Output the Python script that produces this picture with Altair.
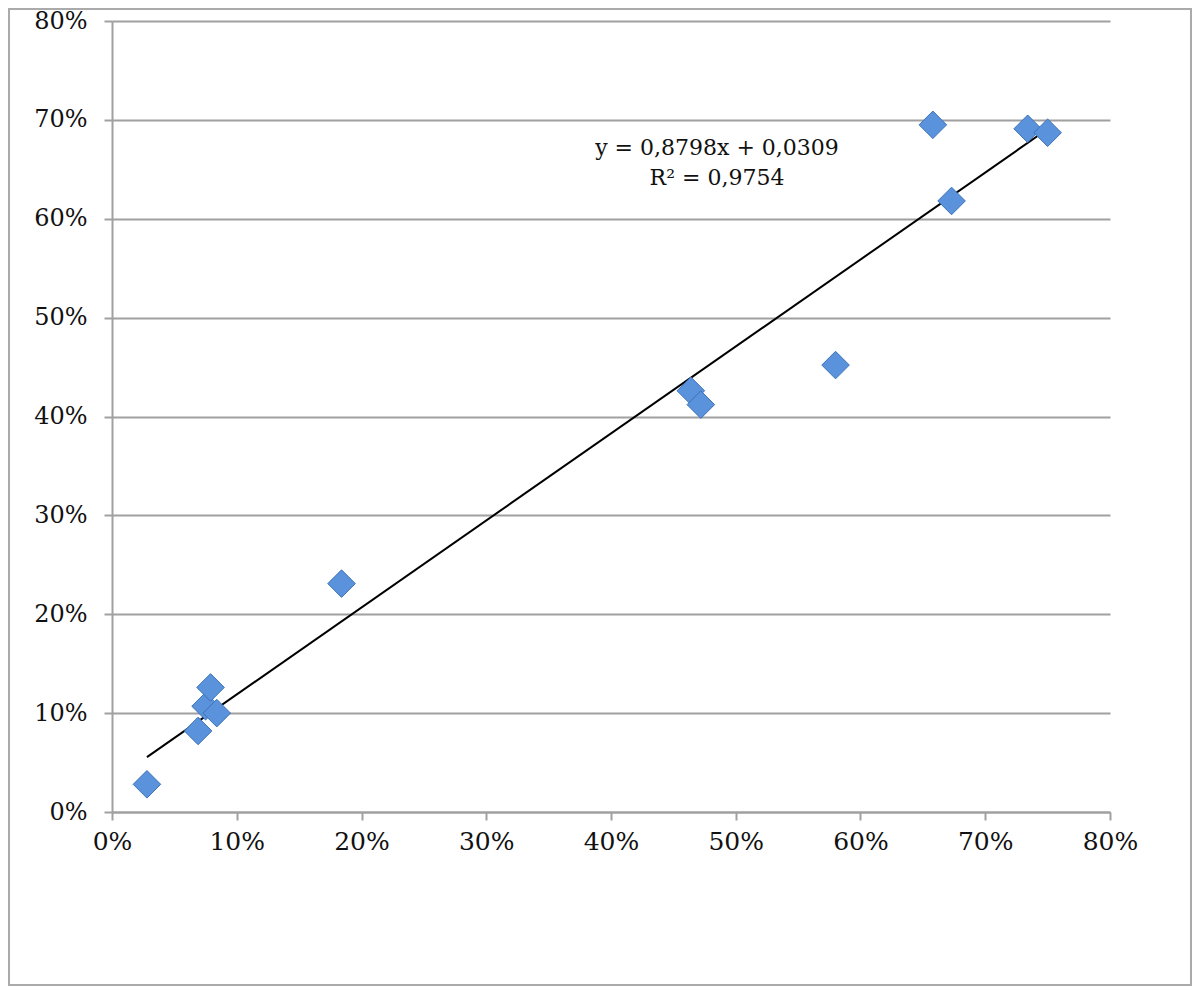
import altair as alt
import pandas as pd

x_vals = [0.028, 0.069, 0.075, 0.079, 0.084, 0.184, 0.464, 0.472, 0.580, 0.658, 0.673, 0.734, 0.750]
y_vals = [0.028, 0.082, 0.107, 0.126, 0.100, 0.231, 0.426, 0.412, 0.452, 0.695, 0.618, 0.691, 0.687]
slope = 0.8798
intercept = 0.0309
tick_vals = [0, 0.1, 0.2, 0.3, 0.4, 0.5, 0.6, 0.7, 0.8]
eq_lines = ["y = 0,8798x + 0,0309", "R² = 0,9754"]

pts = pd.DataFrame({"x": x_vals, "y": y_vals})
xs = [min(x_vals), max(x_vals)]
trend = pd.DataFrame({"x": xs, "y": [slope * v + intercept for v in xs]})

FONT = "DejaVu Serif"
W, H = 998, 791

xscale = alt.Scale(domain=[0, 0.8], nice=False, zero=False)
yscale = alt.Scale(domain=[0, 0.8], nice=False, zero=False)

xaxis = alt.Axis(values=tick_vals, format=".0%", grid=False, title=None,
                 domainColor="#a0a0a0", domainWidth=2, tickColor="#a0a0a0",
                 tickWidth=2, tickSize=8, labelFont=FONT, labelFontSize=25,
                 labelColor="#111", labelPadding=9, labelFlush=False)
yaxis = alt.Axis(values=tick_vals, format=".0%", grid=True, gridColor="#a0a0a0",
                 gridWidth=2, title=None, domainColor="#a0a0a0", domainWidth=2,
                 tickColor="#a0a0a0", tickWidth=2, tickSize=8, labelFont=FONT,
                 labelFontSize=24, labelColor="#111", labelPadding=17,
                 labelFlush=False)

points = alt.Chart(pts).mark_point(
    shape="diamond", filled=True, size=760, fill="#5a92dc",
    stroke="#3c72b8", strokeWidth=1, opacity=1
).encode(
    x=alt.X("x:Q", scale=xscale, axis=xaxis),
    y=alt.Y("y:Q", scale=yscale, axis=yaxis),
)

line = alt.Chart(trend).mark_line(color="black", strokeWidth=2).encode(
    x=alt.X("x:Q", scale=xscale),
    y=alt.Y("y:Q", scale=yscale),
)

label = alt.Chart(pd.DataFrame({"t": [eq_lines]})).mark_text(
    font=FONT, fontSize=22, color="#111", align="center", baseline="middle",
    lineHeight=30
).encode(
    x=alt.value(605), y=alt.value(127), text="t:N"
)

border = alt.Chart(pd.DataFrame({"a": [0]})).mark_rect(
    fill=None, stroke="#aaaaaa", strokeWidth=2, filled=False
).encode(
    x=alt.value(-103), x2=alt.value(1079), y=alt.value(-12), y2=alt.value(964)
)

chart = alt.layer(border, line, points, label).properties(
    width=W, height=H,
    autosize=alt.AutoSizeParams(type="none"),
    padding={"left": 104, "top": 13, "right": 82, "bottom": 176},
    background="white",
).configure_view(stroke=None)

chart.save("out.html", embed_options={"renderer": "svg", "actions": False})
